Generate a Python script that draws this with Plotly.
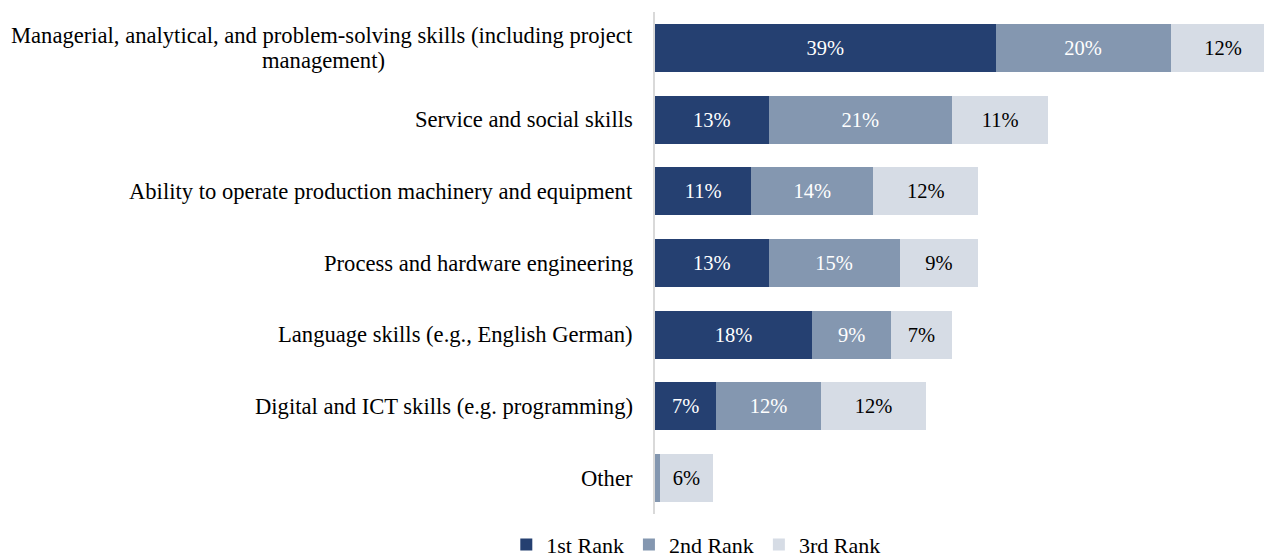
import plotly.graph_objects as go

categories = [
    "Managerial, analytical, and problem-solving skills (including project<br>management)",
    "Service and social skills",
    "Ability to operate production machinery and equipment",
    "Process and hardware engineering",
    "Language skills (e.g., English German)",
    "Digital and ICT skills (e.g. programming)",
    "Other",
]
rank1 = [39, 13, 11, 13, 18, 7, 0]
rank2 = [20, 21, 14, 15, 9, 12, 0.6]
rank3 = [12, 11, 12, 9, 7, 12, 6]
series_names = ["1st Rank", "2nd Rank", "3rd Rank"]

colors = ["#254071", "#8497B0", "#D6DCE5"]
text_colors = ["white", "white", "black"]
FONT = "Liberation Serif"
LABEL_SIZE = 22.6

ypos = list(range(len(categories)))

fig = go.Figure()
for name, vals, col, tcol in zip(series_names, [rank1, rank2, rank3], colors, text_colors):
    labels = [f"{v:.0f}%" if v >= 1 else "" for v in vals]
    fig.add_trace(go.Bar(
        y=ypos, x=vals, name=name, orientation="h",
        marker=dict(color=col, line=dict(width=0)),
        text=labels, textposition="inside", insidetextanchor="middle",
        textfont=dict(family=FONT, size=20.5, color=tcol),
        constraintext="none", cliponaxis=True,
    ))

# category labels to the left of the axis; wrapped labels get one
# annotation per line so the second line can be centred under the first
for i, c in enumerate(categories):
    lines = c.split("<br>")
    if len(lines) == 1:
        fig.add_annotation(
            x=0, xref="paper", y=i, yref="y", text=c, showarrow=False,
            xanchor="right", xshift=-20,
            font=dict(family=FONT, size=LABEL_SIZE, color="black"),
        )
    else:
        fig.add_annotation(
            x=0, xref="paper", y=i, yref="y", text=lines[0], showarrow=False,
            xanchor="right", xshift=-20, yshift=12.5,
            font=dict(family=FONT, size=LABEL_SIZE, color="black"),
        )
        fig.add_annotation(
            x=-0.545, xref="paper", y=i, yref="y", text=lines[1], showarrow=False,
            xanchor="center", yshift=-12.5,
            font=dict(family=FONT, size=LABEL_SIZE, color="black"),
        )

fig.update_layout(
    barmode="stack", bargap=0.33,
    width=1264, height=559,
    margin=dict(l=655, r=0, t=12, b=45, autoexpand=False),
    paper_bgcolor="white", plot_bgcolor="white",
    font=dict(family=FONT, size=LABEL_SIZE, color="black"),
    showlegend=True,
    legend=dict(
        orientation="h", xref="paper", x=0.067, xanchor="center",
        yref="paper", y=-0.061, yanchor="middle",
        font=dict(family=FONT, size=22), itemwidth=30,
        traceorder="normal",
    ),
    xaxis=dict(range=[0, 69.7], showgrid=False, zeroline=False,
               showticklabels=False, showline=False, fixedrange=True),
    yaxis=dict(range=[6.5, -0.5], showgrid=False, zeroline=False,
               showticklabels=False, showline=True, linecolor="#D9D9D9",
               linewidth=2, ticks=""),
)

fig.write_html("out.html")
